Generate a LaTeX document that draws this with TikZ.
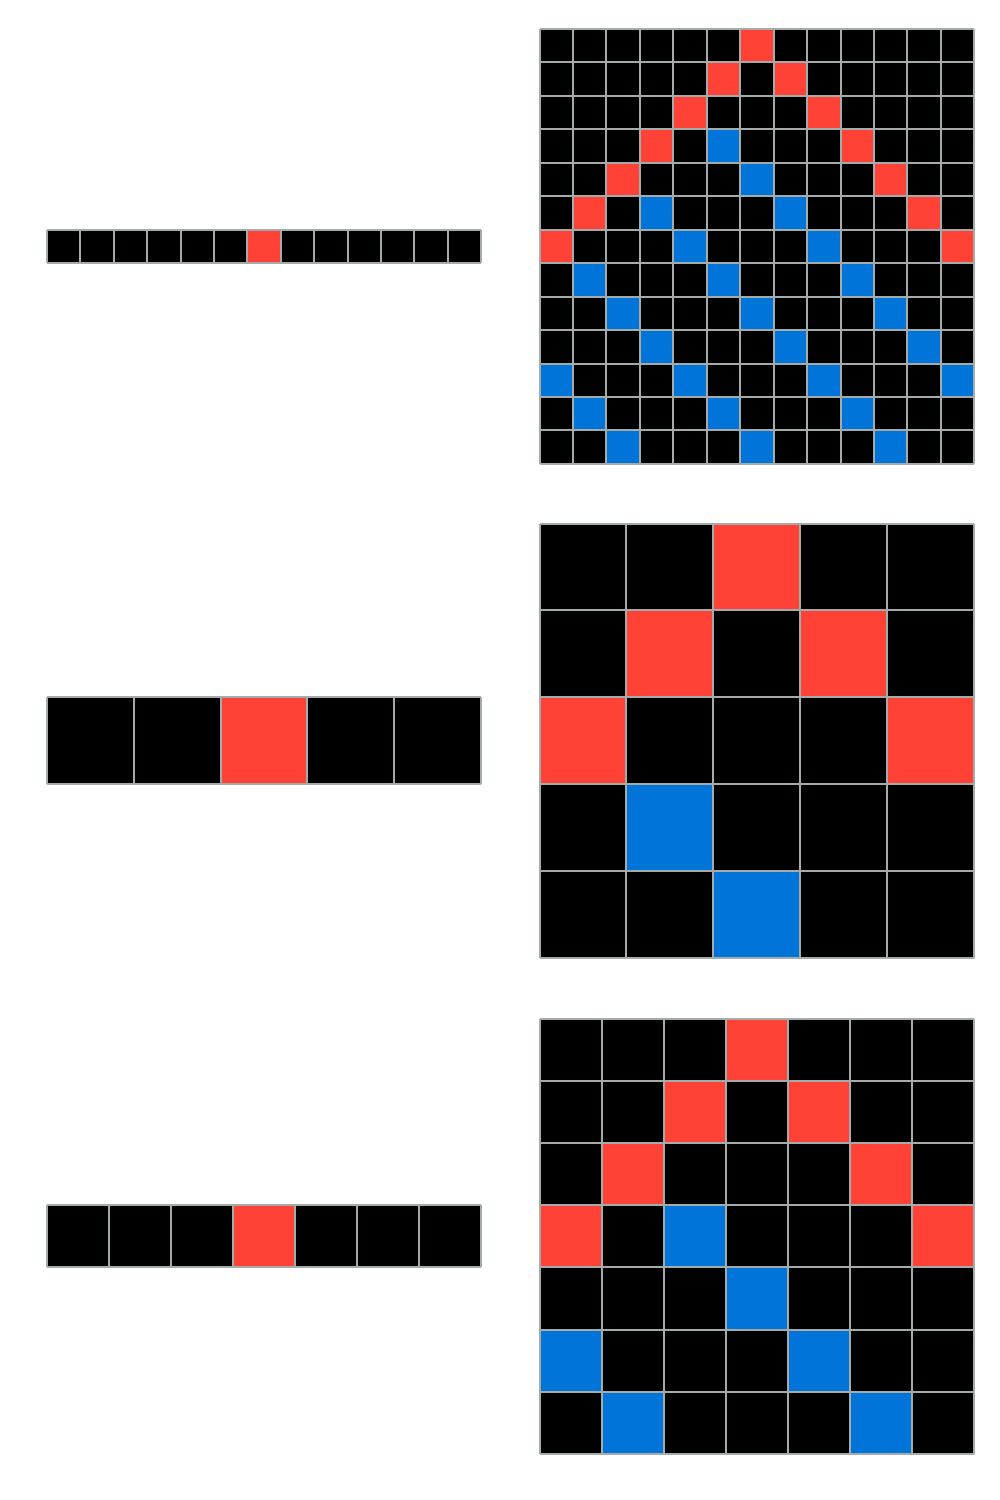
\documentclass[tikz,border=0pt]{standalone}
\usepackage{tikz}

\definecolor{arcred}{HTML}{FF4136}
\definecolor{arcblue}{HTML}{0074D9}
\definecolor{gridgray}{HTML}{A3ABAB}

% black board of #4 rows x #5 cols, cell size #3, top left at (#1,#2)
\newcommand{\arcboard}[5]{%
    \fill[black] (#1,#2) rectangle ++({#3*#5},{#3*#4});
}
% gray cell lines over a board
\newcommand{\arclines}[5]{%
    \foreach \i in {0,...,#5}
        \draw[gridline] ({#1+\i*#3},#2) -- ++(0,{#3*#4});
    \foreach \j in {0,...,#4}
        \draw[gridline] (#1,{#2+\j*#3}) -- ++({#3*#5},0);
}
% coloured cells, list of row/col pairs
\newcommand{\arccells}[5]{%
    \foreach \r/\c in {#5}
        \fill[#4] ({#1+\c*#3},{#2+\r*#3}) rectangle ++(#3,#3);
}

\begin{document}
\begin{tikzpicture}[
    x=0.5pt, y=-0.5pt,
    gridline/.style={draw=gridgray, line width=1pt}
]
    \useasboundingbox (0,0) rectangle (1000,1500);
    \fill[white] (0,0) rectangle (1000,1500);

    % --- Pair 1: 1 x 13 -> 13 x 13 ---
    \arcboard{47}{229.5}{33.4}{1}{13}
    \arccells{47}{229.5}{33.4}{arcred}{0/6}
    \arclines{47}{229.5}{33.4}{1}{13}

    \arcboard{539.5}{29}{33.45}{13}{13}
    \arccells{539.5}{29}{33.45}{arcred}{0/6,1/5,1/7,2/4,2/8,3/3,3/9,4/2,4/10,
        5/1,5/11,6/0,6/12}
    \arccells{539.5}{29}{33.45}{arcblue}{3/5,4/6,5/7,6/8,7/9,8/10,9/11,10/12,
        5/3,6/4,7/5,8/6,9/7,10/8,11/9,12/10,
        7/1,8/2,9/3,10/4,11/5,12/6,
        10/0,11/1,12/2}
    \arclines{539.5}{29}{33.45}{13}{13}

    % --- Pair 2: 1 x 5 -> 5 x 5 ---
    \arcboard{47}{697}{86.8}{1}{5}
    \arccells{47}{697}{86.8}{arcred}{0/2}
    \arclines{47}{697}{86.8}{1}{5}

    \arcboard{539.5}{523.5}{86.9}{5}{5}
    \arccells{539.5}{523.5}{86.9}{arcred}{0/2,1/1,1/3,2/0,2/4}
    \arccells{539.5}{523.5}{86.9}{arcblue}{3/1,4/2}
    \arclines{539.5}{523.5}{86.9}{5}{5}

    % --- Pair 3: 1 x 7 -> 7 x 7 ---
    \arcboard{47}{1205}{62}{1}{7}
    \arccells{47}{1205}{62}{arcred}{0/3}
    \arclines{47}{1205}{62}{1}{7}

    \arcboard{539.5}{1019}{62.1}{7}{7}
    \arccells{539.5}{1019}{62.1}{arcred}{0/3,1/2,1/4,2/1,2/5,3/0,3/6}
    \arccells{539.5}{1019}{62.1}{arcblue}{3/2,4/3,5/4,6/5,5/0,6/1}
    \arclines{539.5}{1019}{62.1}{7}{7}
\end{tikzpicture}
\end{document}
